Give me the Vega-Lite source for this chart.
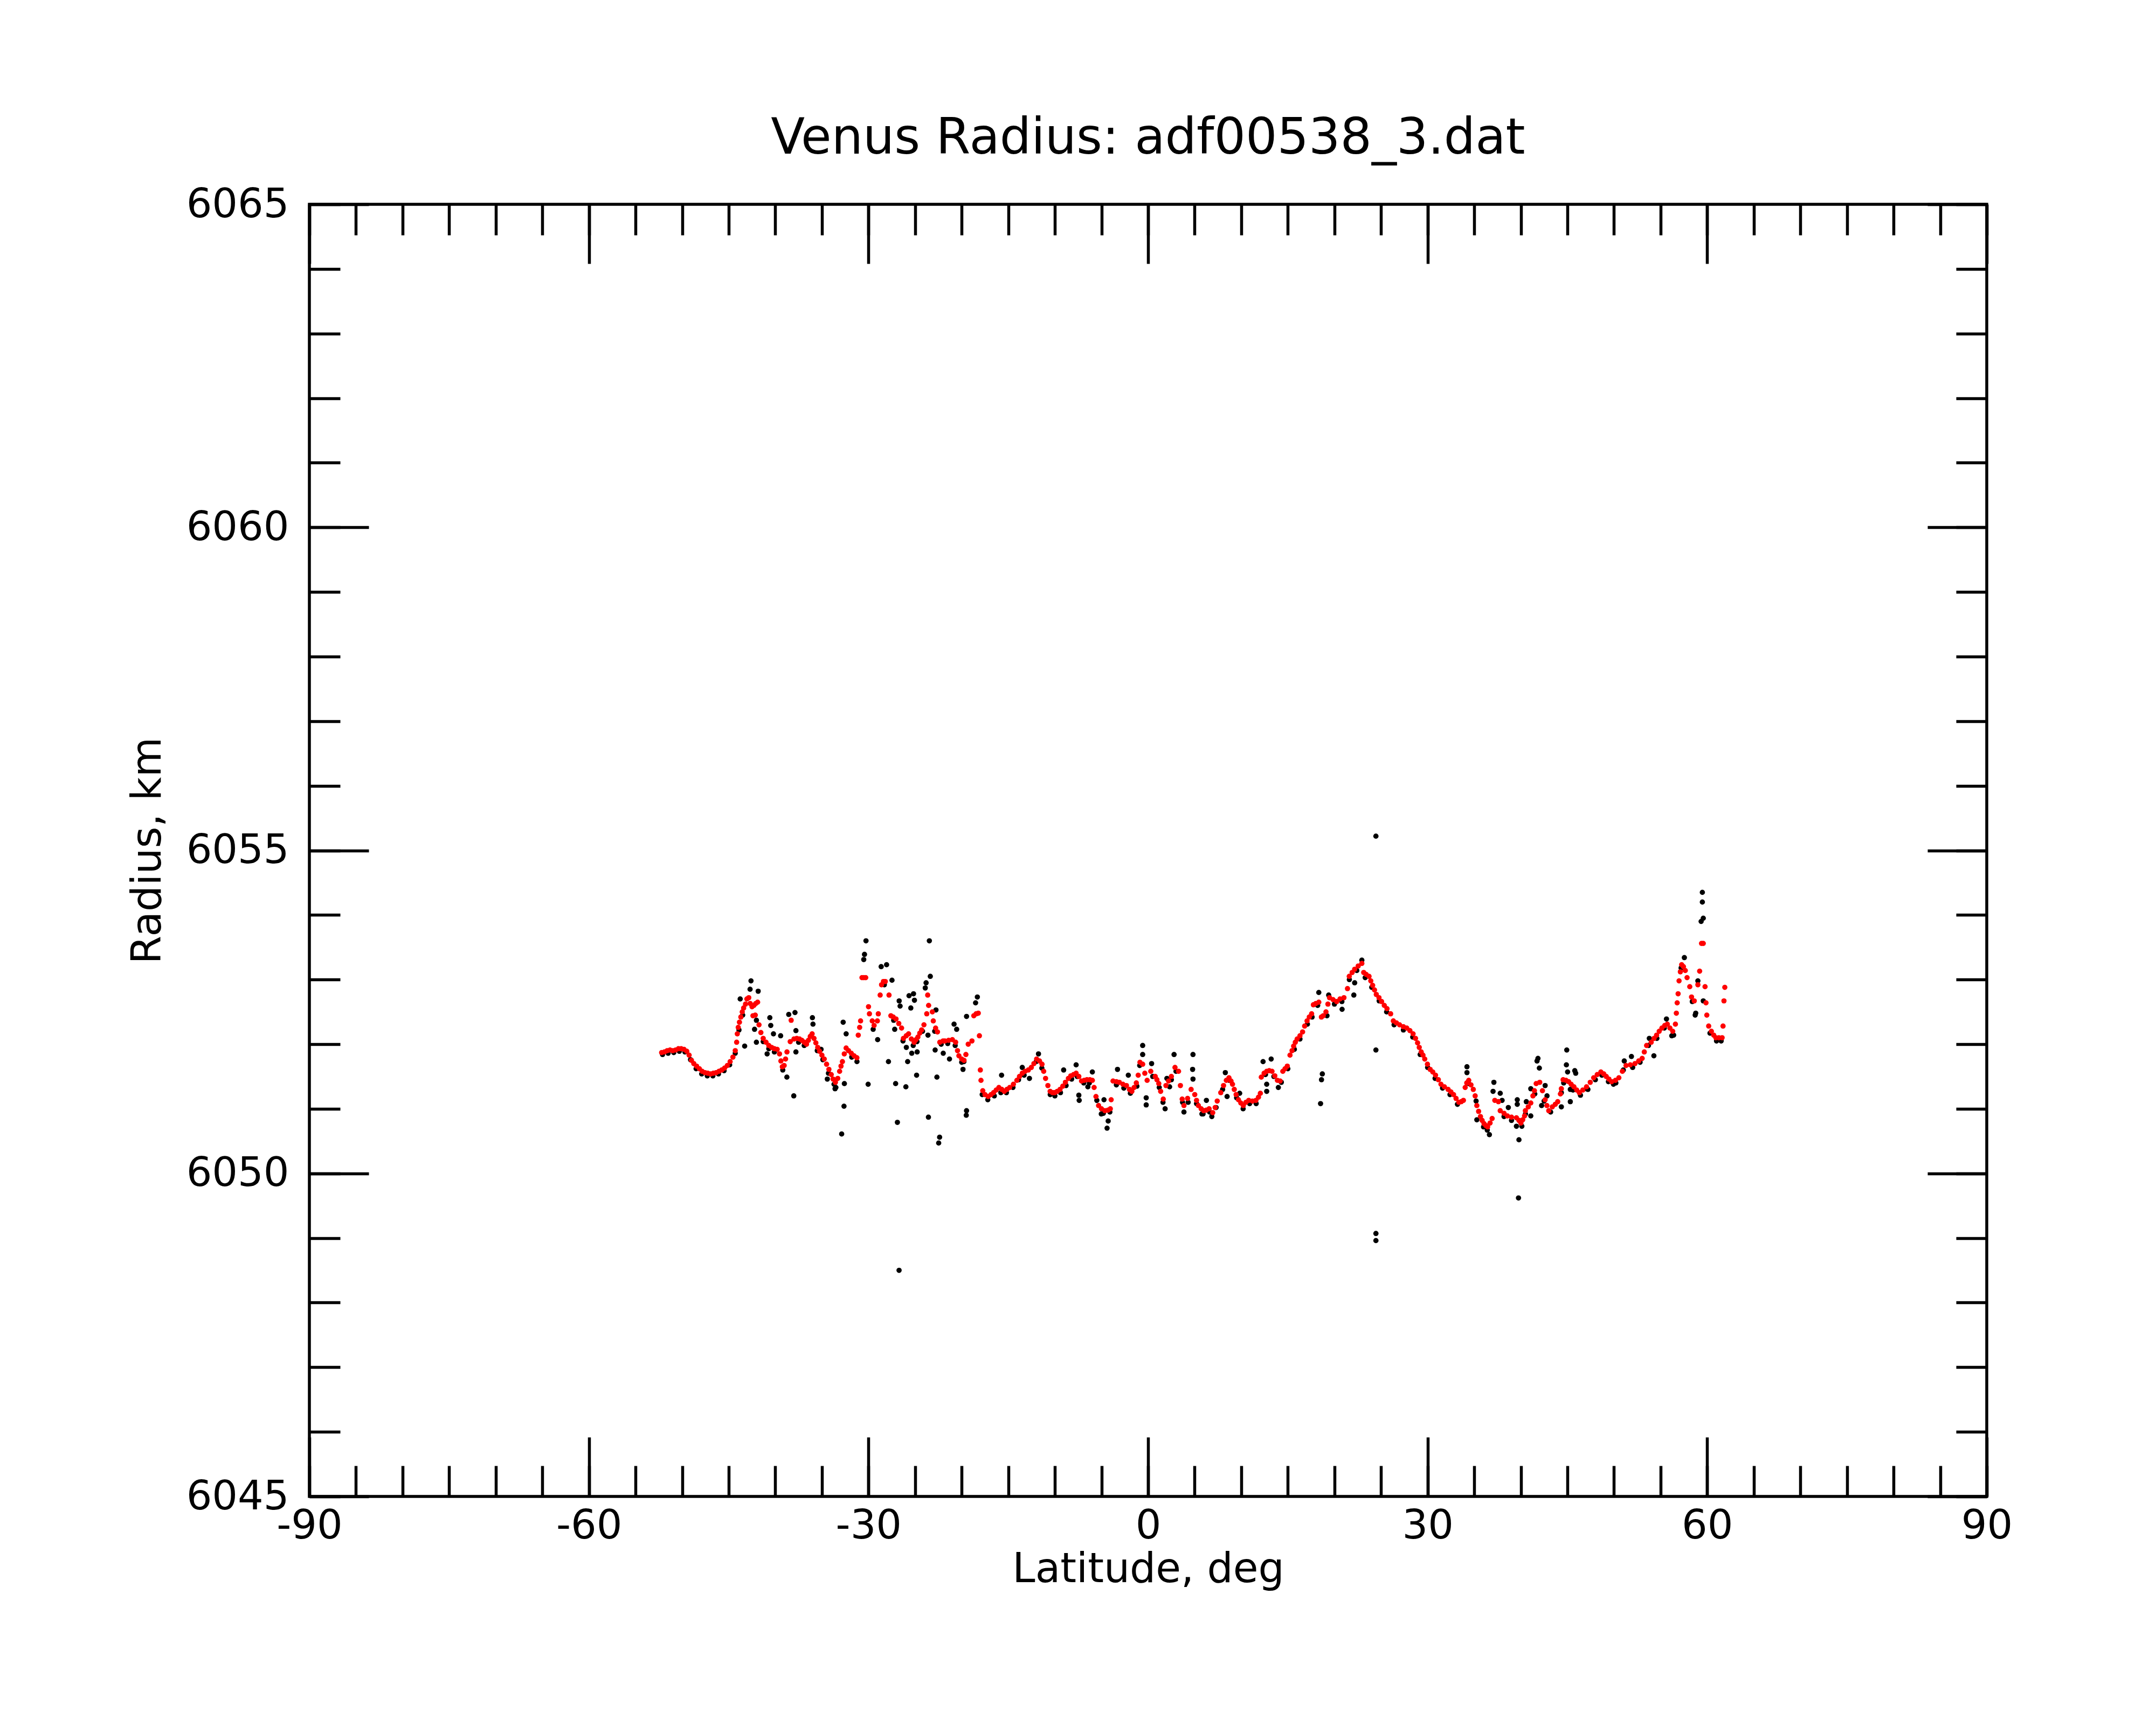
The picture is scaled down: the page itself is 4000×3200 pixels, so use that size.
{
"$schema": "https://vega.github.io/schema/vega-lite/v6.json",
"width": 3112, "height": 2397,
"autosize": {"type": "none"},
"padding": {"left": 574, "top": 379, "right": 314, "bottom": 424},
"background": "white",
"title": {"text": "Venus Radius: adf00538_3.dat", "font": "DejaVu Sans", "fontSize": 92, "fontWeight": "normal", "color": "black", "anchor": "middle", "baseline": "alphabetic", "offset": -35},
"config": {
  "view": {"stroke": "black", "strokeWidth": 5.5},
  "axis": {"domain": false, "grid": false, "tickColor": "black", "tickWidth": 5.5, "labelFont": "DejaVu Sans", "labelFontSize": 75, "labelColor": "black", "labelLimit": 0, "titleFont": "DejaVu Sans", "titleFontSize": 76, "titleFontWeight": "normal", "titleColor": "black", "labelFlush": false, "labelOverlap": false, "labelBound": false}
},
"datasets": {
"smooth": [
{"lat":-52.2,"r":6051.87},{"lat":-51.9,"r":6051.88},{"lat":-51.6,"r":6051.9},{"lat":-51.3,"r":6051.91},{"lat":-51.0,"r":6051.9},{"lat":-50.7,"r":6051.91},{"lat":-50.4,"r":6051.93},{"lat":-50.1,"r":6051.93},{"lat":-49.8,"r":6051.92},{"lat":-49.5,"r":6051.89},{"lat":-49.25,"r":6051.83},{"lat":-49.0,"r":6051.75},{"lat":-48.75,"r":6051.7},{"lat":-48.45,"r":6051.66},{"lat":-48.15,"r":6051.62},{"lat":-47.85,"r":6051.58},{"lat":-47.55,"r":6051.56},{"lat":-47.25,"r":6051.55},{"lat":-46.95,"r":6051.54},{"lat":-46.65,"r":6051.55},{"lat":-46.35,"r":6051.56},{"lat":-46.05,"r":6051.58},{"lat":-45.75,"r":6051.6},{"lat":-45.45,"r":6051.63},{"lat":-45.15,"r":6051.67},{"lat":-44.85,"r":6051.73},{"lat":-44.55,"r":6051.8},
{"lat":-44.3,"r":6051.9},{"lat":-44.15,"r":6052.03},{"lat":-44.08,"r":6052.16},{"lat":-43.98,"r":6052.26},{"lat":-43.85,"r":6052.34},{"lat":-43.7,"r":6052.42},{"lat":-43.55,"r":6052.5},{"lat":-43.4,"r":6052.56},{"lat":-43.2,"r":6052.62},{"lat":-43.05,"r":6052.7},{"lat":-42.85,"r":6052.72},{"lat":-42.7,"r":6052.63},{"lat":-42.5,"r":6052.58},{"lat":-42.3,"r":6052.6},{"lat":-42.1,"r":6052.63},{"lat":-41.9,"r":6052.65},{"lat":-42.4,"r":6052.44},{"lat":-42.15,"r":6052.45},
{"lat":-41.75,"r":6052.3},{"lat":-41.55,"r":6052.18},{"lat":-41.3,"r":6052.09},{"lat":-41.0,"r":6052.03},{"lat":-40.7,"r":6051.98},{"lat":-40.4,"r":6051.95},{"lat":-40.1,"r":6051.93},{"lat":-39.8,"r":6051.92},{"lat":-39.55,"r":6051.85},{"lat":-39.4,"r":6051.74},{"lat":-39.25,"r":6051.65},{"lat":-39.05,"r":6051.67},{"lat":-38.9,"r":6051.77},{"lat":-38.75,"r":6051.88},{"lat":-38.3,"r":6052.37},{"lat":-38.4,"r":6052.04},{"lat":-38.0,"r":6052.08},{"lat":-37.7,"r":6052.09},{"lat":-37.4,"r":6052.08},{"lat":-37.15,"r":6052.06},{"lat":-36.9,"r":6052.03},{"lat":-36.65,"r":6052.0},{"lat":-36.45,"r":6052.06},{"lat":-36.25,"r":6052.12},{"lat":-36.05,"r":6052.16},{"lat":-35.85,"r":6052.09},{"lat":-35.65,"r":6052.02},{"lat":-35.45,"r":6051.95},{"lat":-35.25,"r":6051.89},{"lat":-35.0,"r":6051.83},{"lat":-34.75,"r":6051.77},{"lat":-34.5,"r":6051.69},{"lat":-34.25,"r":6051.61},{"lat":-34.0,"r":6051.53},{"lat":-33.8,"r":6051.46},{"lat":-33.55,"r":6051.41},{"lat":-33.3,"r":6051.47},{"lat":-33.1,"r":6051.58},{"lat":-32.95,"r":6051.66},{"lat":-32.8,"r":6051.73},{"lat":-32.6,"r":6051.85},{"lat":-32.4,"r":6051.94},{"lat":-32.15,"r":6051.9},{"lat":-31.85,"r":6051.86},{"lat":-31.55,"r":6051.82},{"lat":-31.25,"r":6051.79},
{"lat":-31.1,"r":6052.14},{"lat":-30.95,"r":6052.26},{"lat":-30.85,"r":6052.36},{"lat":-30.7,"r":6053.03},{"lat":-30.5,"r":6053.03},{"lat":-30.3,"r":6053.03},{"lat":-30.0,"r":6052.58},{"lat":-29.9,"r":6052.47},{"lat":-29.6,"r":6052.36},{"lat":-29.4,"r":6052.29},{"lat":-29.05,"r":6052.36},{"lat":-28.95,"r":6052.47},{"lat":-28.75,"r":6052.76},{"lat":-28.6,"r":6052.92},{"lat":-28.4,"r":6052.97},{"lat":-28.2,"r":6052.97},{"lat":-27.8,"r":6052.76},{"lat":-27.6,"r":6052.44},{"lat":-27.35,"r":6052.42},{"lat":-27.05,"r":6052.39},{"lat":-26.75,"r":6052.32},{"lat":-26.45,"r":6052.25},{"lat":-26.25,"r":6052.09},{"lat":-25.95,"r":6052.13},{"lat":-25.7,"r":6052.16},{"lat":-25.4,"r":6052.08},{"lat":-25.1,"r":6052.03},{"lat":-24.9,"r":6052.07},{"lat":-24.7,"r":6052.11},{"lat":-24.5,"r":6052.17},{"lat":-24.3,"r":6052.22},{"lat":-24.05,"r":6052.3},{"lat":-23.75,"r":6052.47},{"lat":-23.55,"r":6052.6},{"lat":-23.65,"r":6052.76},{"lat":-23.15,"r":6052.5},{"lat":-23.05,"r":6052.36},{"lat":-22.8,"r":6052.25},{"lat":-22.6,"r":6052.19},{"lat":-22.35,"r":6052.03},
{"lat":-22.0,"r":6052.05},{"lat":-21.8,"r":6052.05},{"lat":-21.4,"r":6052.06},{"lat":-21.0,"r":6052.07},{"lat":-20.65,"r":6052.03},{"lat":-20.45,"r":6051.9},{"lat":-20.3,"r":6051.82},{"lat":-20.0,"r":6051.77},{"lat":-19.75,"r":6051.75},{"lat":-19.55,"r":6051.84},{"lat":-19.3,"r":6052.0},{"lat":-18.9,"r":6052.05},{"lat":-18.7,"r":6052.44},{"lat":-18.45,"r":6052.47},{"lat":-18.22,"r":6052.48},{"lat":-18.1,"r":6052.13},{"lat":-18.0,"r":6051.6},{"lat":-17.93,"r":6051.44},{"lat":-17.74,"r":6051.28},{"lat":-17.5,"r":6051.22},{"lat":-17.16,"r":6051.19},{"lat":-16.85,"r":6051.22},{"lat":-16.58,"r":6051.25},{"lat":-16.3,"r":6051.29},{"lat":-16.01,"r":6051.33},{"lat":-15.7,"r":6051.3},{"lat":-15.43,"r":6051.27},{"lat":-15.15,"r":6051.3},{"lat":-14.85,"r":6051.33},{"lat":-14.45,"r":6051.38},{"lat":-14.08,"r":6051.44},{"lat":-13.8,"r":6051.5},{"lat":-13.5,"r":6051.55},{"lat":-13.2,"r":6051.58},{"lat":-12.85,"r":6051.6},{"lat":-12.53,"r":6051.64},{"lat":-12.25,"r":6051.7},{"lat":-11.96,"r":6051.77},{"lat":-11.65,"r":6051.74},{"lat":-11.38,"r":6051.69},{"lat":-11.2,"r":6051.58},{"lat":-11.0,"r":6051.47},{"lat":-10.75,"r":6051.36},{"lat":-10.51,"r":6051.27},{"lat":-10.25,"r":6051.25},{"lat":-10.03,"r":6051.25},{"lat":-9.75,"r":6051.27},{"lat":-9.45,"r":6051.3},{"lat":-9.15,"r":6051.35},{"lat":-8.87,"r":6051.41},{"lat":-8.55,"r":6051.47},{"lat":-8.29,"r":6051.51},{"lat":-8.0,"r":6051.53},{"lat":-7.72,"r":6051.55},{"lat":-7.43,"r":6051.5},{"lat":-7.14,"r":6051.43},{"lat":-6.85,"r":6051.44},{"lat":-6.56,"r":6051.45},{"lat":-6.25,"r":6051.45},{"lat":-5.98,"r":6051.44},{"lat":-5.79,"r":6051.33},{"lat":-5.59,"r":6051.19},{"lat":-5.31,"r":6051.05},{"lat":-5.0,"r":6051.0},{"lat":-4.63,"r":6050.97},{"lat":-4.3,"r":6050.98},{"lat":-4.05,"r":6051.0},{"lat":-3.96,"r":6051.14},{"lat":-3.76,"r":6051.43},{"lat":-3.4,"r":6051.42},{"lat":-3.09,"r":6051.41},{"lat":-2.7,"r":6051.38},{"lat":-2.32,"r":6051.36},{"lat":-2.0,"r":6051.3},{"lat":-1.74,"r":6051.27},{"lat":-1.5,"r":6051.33},{"lat":-1.26,"r":6051.4},{"lat":-1.06,"r":6051.52},{"lat":-0.87,"r":6051.72},{"lat":-0.58,"r":6051.69},{"lat":-0.35,"r":6051.55},{"lat":-0.1,"r":6051.44},{"lat":0.29,"r":6051.58},{"lat":0.77,"r":6051.5},{"lat":0.95,"r":6051.45},{"lat":1.15,"r":6051.39},{"lat":1.35,"r":6051.27},{"lat":1.63,"r":6051.15},{"lat":1.92,"r":6051.36},{"lat":2.2,"r":6051.43},{"lat":2.5,"r":6051.5},{"lat":2.89,"r":6051.64},{"lat":3.27,"r":6051.58},{"lat":3.47,"r":6051.36},{"lat":3.66,"r":6051.15},{"lat":3.85,"r":6051.05},{"lat":4.24,"r":6051.16},{"lat":4.62,"r":6051.3},{"lat":5.01,"r":6051.22},{"lat":5.2,"r":6051.13},{"lat":5.4,"r":6051.05},{"lat":5.7,"r":6051.0},{"lat":5.97,"r":6050.97},{"lat":6.25,"r":6050.98},{"lat":6.55,"r":6051.0},{"lat":6.94,"r":6050.94},{"lat":7.2,"r":6051.02},{"lat":7.42,"r":6051.12},
{"lat":7.8,"r":6051.25},{"lat":8.1,"r":6051.36},{"lat":8.4,"r":6051.44},{"lat":8.68,"r":6051.48},{"lat":8.9,"r":6051.43},{"lat":9.06,"r":6051.38},{"lat":9.25,"r":6051.3},{"lat":9.45,"r":6051.22},{"lat":9.7,"r":6051.14},{"lat":9.95,"r":6051.09},{"lat":10.22,"r":6051.05},{"lat":10.5,"r":6051.1},{"lat":10.8,"r":6051.13},{"lat":11.2,"r":6051.12},{"lat":11.57,"r":6051.13},{"lat":11.85,"r":6051.18},{"lat":12.05,"r":6051.24},{"lat":12.15,"r":6051.49},{"lat":12.45,"r":6051.55},{"lat":12.73,"r":6051.58},{"lat":13.0,"r":6051.59},{"lat":13.3,"r":6051.58},{"lat":13.6,"r":6051.51},{"lat":13.88,"r":6051.44},{"lat":14.17,"r":6051.43},{"lat":14.46,"r":6051.58},{"lat":14.7,"r":6051.62},{"lat":14.94,"r":6051.66},{"lat":15.23,"r":6051.83},{"lat":15.45,"r":6051.9},{"lat":15.62,"r":6051.97},{"lat":15.8,"r":6052.03},{"lat":16.0,"r":6052.08},{"lat":16.3,"r":6052.13},{"lat":16.58,"r":6052.19},{"lat":16.8,"r":6052.28},{"lat":17.06,"r":6052.36},{"lat":17.3,"r":6052.42},{"lat":17.55,"r":6052.47},{"lat":17.74,"r":6052.61},{"lat":18.0,"r":6052.63},{"lat":18.32,"r":6052.65},{"lat":18.6,"r":6052.42},{"lat":18.8,"r":6052.44},{"lat":19.09,"r":6052.5},{"lat":19.3,"r":6052.62},{"lat":19.47,"r":6052.72},{"lat":19.85,"r":6052.69},{"lat":20.24,"r":6052.66},{"lat":20.6,"r":6052.7},{"lat":21.02,"r":6052.72},{"lat":21.4,"r":6052.86},{"lat":21.59,"r":6053.05},{"lat":21.9,"r":6053.11},{"lat":22.17,"r":6053.16},{"lat":22.55,"r":6053.21},{"lat":22.94,"r":6053.25},{"lat":23.14,"r":6053.11},{"lat":23.4,"r":6053.08},{"lat":23.71,"r":6053.05},{"lat":23.9,"r":6052.98},{"lat":24.1,"r":6052.91},{"lat":24.3,"r":6052.84},{"lat":24.49,"r":6052.77},{"lat":24.78,"r":6052.72},{"lat":25.06,"r":6052.66},{"lat":25.35,"r":6052.6},{"lat":25.64,"r":6052.55},{"lat":26.03,"r":6052.47},{"lat":26.32,"r":6052.36},{"lat":26.65,"r":6052.33},{"lat":26.99,"r":6052.3},{"lat":27.4,"r":6052.27},{"lat":27.76,"r":6052.25},{"lat":28.1,"r":6052.21},{"lat":28.44,"r":6052.16},{"lat":28.7,"r":6052.09},{"lat":28.92,"r":6052.02},{"lat":29.1,"r":6051.95},{"lat":29.31,"r":6051.88},{"lat":29.5,"r":6051.83},{"lat":29.69,"r":6051.77},{"lat":29.98,"r":6051.69},{"lat":30.27,"r":6051.61},{"lat":30.55,"r":6051.57},{"lat":30.85,"r":6051.52},{"lat":31.15,"r":6051.45},{"lat":31.43,"r":6051.38},{"lat":31.8,"r":6051.34},{"lat":32.2,"r":6051.3},{"lat":32.5,"r":6051.26},{"lat":32.78,"r":6051.22},{"lat":33.05,"r":6051.16},{"lat":33.35,"r":6051.1},{"lat":33.6,"r":6051.11},{"lat":33.84,"r":6051.13},{"lat":34.03,"r":6051.33},{"lat":34.2,"r":6051.4},{"lat":34.41,"r":6051.44},{"lat":34.65,"r":6051.37},{"lat":34.9,"r":6051.3},{"lat":35.1,"r":6051.2},{"lat":35.28,"r":6051.05},{"lat":35.47,"r":6050.96},{"lat":35.67,"r":6050.88},{"lat":35.85,"r":6050.82},{"lat":36.05,"r":6050.77},{"lat":36.25,"r":6050.74},{"lat":36.44,"r":6050.72},{"lat":36.7,"r":6050.78},{"lat":36.92,"r":6050.85},{"lat":37.21,"r":6051.13},
{"lat":37.6,"r":6051.11},{"lat":37.79,"r":6050.97},{"lat":38.2,"r":6050.93},{"lat":38.56,"r":6050.89},{"lat":39.0,"r":6050.87},{"lat":39.53,"r":6050.86},{"lat":39.8,"r":6050.82},{"lat":40.01,"r":6050.78},{"lat":40.2,"r":6050.83},{"lat":40.4,"r":6050.89},{"lat":40.49,"r":6050.97},{"lat":40.8,"r":6051.03},{"lat":41.07,"r":6051.09},{"lat":41.3,"r":6051.2},{"lat":41.46,"r":6051.28},{"lat":41.65,"r":6051.39},{"lat":42.03,"r":6051.41},{"lat":42.32,"r":6051.28},{"lat":42.61,"r":6051.14},{"lat":42.8,"r":6051.05},{"lat":43.0,"r":6050.97},{"lat":43.38,"r":6051.03},{"lat":43.7,"r":6051.07},{"lat":43.96,"r":6051.11},{"lat":44.25,"r":6051.23},{"lat":44.35,"r":6051.31},{"lat":44.54,"r":6051.45},{"lat":44.85,"r":6051.44},{"lat":45.12,"r":6051.42},{"lat":45.4,"r":6051.38},{"lat":45.7,"r":6051.34},{"lat":46.0,"r":6051.29},{"lat":46.28,"r":6051.25},{"lat":46.65,"r":6051.29},{"lat":47.05,"r":6051.34},{"lat":47.45,"r":6051.41},{"lat":47.82,"r":6051.48},{"lat":48.2,"r":6051.53},{"lat":48.59,"r":6051.57},{"lat":48.9,"r":6051.54},{"lat":49.17,"r":6051.5},{"lat":49.45,"r":6051.46},{"lat":49.75,"r":6051.42},{"lat":50.15,"r":6051.44},{"lat":50.52,"r":6051.48},{"lat":50.9,"r":6051.58},{"lat":51.29,"r":6051.67},{"lat":51.75,"r":6051.68},{"lat":52.25,"r":6051.7},{"lat":52.65,"r":6051.74},{"lat":53.02,"r":6051.78},{"lat":53.25,"r":6051.88},{"lat":53.5,"r":6051.98},{"lat":53.99,"r":6052.03},{"lat":54.3,"r":6052.09},{"lat":54.57,"r":6052.14},{"lat":54.85,"r":6052.2},{"lat":55.14,"r":6052.25},{"lat":55.45,"r":6052.29},{"lat":55.72,"r":6052.31},{"lat":56.0,"r":6052.25},{"lat":56.3,"r":6052.2},{"lat":56.59,"r":6052.31},{"lat":56.69,"r":6052.48},{"lat":56.78,"r":6052.64},{"lat":56.88,"r":6052.78},{"lat":56.98,"r":6052.98},{"lat":57.12,"r":6053.12},{"lat":57.26,"r":6053.23},{"lat":57.45,"r":6053.2},{"lat":57.65,"r":6053.14},{"lat":57.84,"r":6053.03},{"lat":58.13,"r":6052.89},{"lat":58.32,"r":6052.73},{"lat":58.61,"r":6052.67},{"lat":59.0,"r":6052.92},{"lat":59.19,"r":6053.13},{"lat":59.39,"r":6053.56},{"lat":59.58,"r":6053.56},{"lat":59.77,"r":6052.89},{"lat":59.87,"r":6052.64},{"lat":59.96,"r":6052.45},{"lat":60.16,"r":6052.28},{"lat":60.45,"r":6052.2},{"lat":60.7,"r":6052.14},{"lat":60.93,"r":6052.1},{"lat":61.25,"r":6052.1},{"lat":61.6,"r":6052.1},{"lat":61.7,"r":6052.28},{"lat":61.8,"r":6052.67},{"lat":61.89,"r":6052.88}
],
"raw": [
{"lat":-52.1,"r":6051.84},{"lat":-51.5,"r":6051.86},{"lat":-50.9,"r":6051.87},{"lat":-50.3,"r":6051.89},{"lat":-49.7,"r":6051.88},{"lat":-49.1,"r":6051.76},{"lat":-48.5,"r":6051.62},{"lat":-47.9,"r":6051.54},{"lat":-47.3,"r":6051.51},{"lat":-46.7,"r":6051.51},{"lat":-46.1,"r":6051.54},{"lat":-45.5,"r":6051.59},{"lat":-44.9,"r":6051.68},{"lat":-44.3,"r":6051.86},{"lat":-43.9,"r":6052.22},{"lat":-43.5,"r":6052.45},
{"lat":-42.61,"r":6052.98},{"lat":-42.71,"r":6052.85},{"lat":-43.77,"r":6052.7},{"lat":-41.84,"r":6052.82},{"lat":-43.29,"r":6051.97},{"lat":-42.03,"r":6052.37},{"lat":-42.23,"r":6052.23},{"lat":-40.59,"r":6052.41},{"lat":-40.49,"r":6052.29},{"lat":-40.2,"r":6052.16},{"lat":-40.88,"r":6051.85},{"lat":-42.03,"r":6052.03},{"lat":-38.56,"r":6052.46},{"lat":-37.89,"r":6052.49},{"lat":-37.79,"r":6052.21},{"lat":-39.43,"r":6052.13},{"lat":-38.76,"r":6051.49},{"lat":-38.02,"r":6051.2},{"lat":-37.79,"r":6051.88},{"lat":-36.02,"r":6052.41},{"lat":-35.96,"r":6052.31},{"lat":-35.09,"r":6051.92},{"lat":-34.42,"r":6051.46},{"lat":-33.59,"r":6051.31},{"lat":-32.59,"r":6051.39},{"lat":-32.63,"r":6051.04},{"lat":-32.88,"r":6050.61},{"lat":-32.72,"r":6052.34},{"lat":-32.4,"r":6052.16},{"lat":-31.24,"r":6051.73},{"lat":-30.27,"r":6053.6},{"lat":-30.43,"r":6053.39},{"lat":-30.51,"r":6053.31},{"lat":-30.04,"r":6051.38},{"lat":-28.64,"r":6053.2},{"lat":-28.06,"r":6053.23},{"lat":-27.48,"r":6052.99},{"lat":-26.71,"r":6052.67},{"lat":-26.61,"r":6052.59},{"lat":-27.19,"r":6052.23},{"lat":-29.02,"r":6052.07},{"lat":-29.5,"r":6052.23},{"lat":-27.86,"r":6051.73},{"lat":-27.09,"r":6051.39},{"lat":-26.9,"r":6050.79},{"lat":-25.99,"r":6051.34},{"lat":-25.8,"r":6051.73},{"lat":-25.94,"r":6051.95},{"lat":-25.46,"r":6052.56},{"lat":-25.65,"r":6052.75},{"lat":-25.17,"r":6052.78},{"lat":-25.07,"r":6052.68},{"lat":-24.84,"r":6051.52},{"lat":-25.36,"r":6051.86},{"lat":-24.78,"r":6051.88},{"lat":-23.47,"r":6053.6},{"lat":-23.37,"r":6053.05},{"lat":-23.82,"r":6052.95},{"lat":-23.91,"r":6052.87},{"lat":-23.57,"r":6050.87},{"lat":-22.66,"r":6051.49},{"lat":-22.85,"r":6051.91},{"lat":-23.62,"r":6052.14},{"lat":-22.37,"r":6050.56},{"lat":-22.47,"r":6050.47},{"lat":-22.76,"r":6052.53},{"lat":-26.72,"r":6048.5},
{"lat":-41.3,"r":6052.04},{"lat":-40.7,"r":6051.93},{"lat":-40.1,"r":6051.88},{"lat":-39.2,"r":6051.6},{"lat":-37.5,"r":6052.03},{"lat":-36.9,"r":6051.98},{"lat":-35.5,"r":6051.9},{"lat":-34.9,"r":6051.76},{"lat":-34.3,"r":6051.55},{"lat":-33.7,"r":6051.38},{"lat":-33.5,"r":6051.33},{"lat":-31.8,"r":6051.8},{"lat":-28.3,"r":6052.92},{"lat":-27.3,"r":6052.37},{"lat":-26.3,"r":6052.05},{"lat":-25.2,"r":6051.98},{"lat":-24.8,"r":6052.04},{"lat":-24.2,"r":6052.2},{"lat":-22.9,"r":6052.2},{"lat":-22.2,"r":6052.0},{"lat":-21.5,"r":6052.01},{"lat":-20.7,"r":6051.98},{"lat":-20.0,"r":6051.72},
{"lat":-18.32,"r":6052.73},{"lat":-18.51,"r":6052.64},{"lat":-19.48,"r":6052.43},{"lat":-20.82,"r":6052.31},{"lat":-20.54,"r":6052.23},{"lat":-21.98,"r":6051.86},{"lat":-21.31,"r":6051.77},{"lat":-19.86,"r":6051.61},{"lat":-19.76,"r":6051.73},{"lat":-19.48,"r":6050.97},{"lat":-19.51,"r":6050.9},{"lat":-11.76,"r":6051.85},{"lat":-15.72,"r":6051.52},{"lat":-13.5,"r":6051.64},{"lat":-12.73,"r":6051.47},{"lat":-9.06,"r":6051.6},{"lat":-7.72,"r":6051.68},{"lat":-7.43,"r":6051.21},{"lat":-7.39,"r":6051.13},{"lat":-5.98,"r":6051.57},{"lat":-6.46,"r":6051.34},{"lat":-4.73,"r":6051.14},{"lat":-5.02,"r":6050.92},{"lat":-4.28,"r":6050.81},{"lat":-4.4,"r":6050.7},{"lat":-3.28,"r":6051.61},{"lat":-2.12,"r":6051.52},{"lat":-0.58,"r":6051.98},{"lat":-0.58,"r":6051.84},{"lat":-0.2,"r":6051.17},{"lat":-0.2,"r":6051.06},{"lat":0.38,"r":6051.7},{"lat":1.83,"r":6051.0},{"lat":2.02,"r":6051.47},{"lat":2.31,"r":6051.34},{"lat":2.79,"r":6051.84},{"lat":3.85,"r":6050.95},{"lat":4.82,"r":6051.84},{"lat":4.78,"r":6051.61},{"lat":4.82,"r":6051.46},{"lat":5.78,"r":6050.92},{"lat":6.26,"r":6051.13},{"lat":6.84,"r":6050.88},
{"lat":-17.8,"r":6051.22},{"lat":-17.2,"r":6051.14},{"lat":-16.5,"r":6051.2},{"lat":-15.8,"r":6051.25},{"lat":-15.2,"r":6051.25},{"lat":-14.5,"r":6051.33},{"lat":-13.9,"r":6051.45},{"lat":-13.3,"r":6051.52},{"lat":-12.0,"r":6051.73},{"lat":-11.4,"r":6051.63},{"lat":-10.5,"r":6051.22},{"lat":-10.0,"r":6051.2},{"lat":-9.4,"r":6051.25},{"lat":-8.8,"r":6051.36},{"lat":-8.2,"r":6051.46},{"lat":-7.6,"r":6051.5},{"lat":-6.9,"r":6051.4},{"lat":-6.3,"r":6051.4},{"lat":-5.5,"r":6051.13},{"lat":-4.8,"r":6050.93},{"lat":-4.1,"r":6050.95},{"lat":-3.4,"r":6051.37},{"lat":-2.6,"r":6051.32},{"lat":-1.9,"r":6051.24},{"lat":-1.2,"r":6051.35},{"lat":-0.9,"r":6051.67},{"lat":0.5,"r":6051.5},{"lat":1.2,"r":6051.33},{"lat":1.6,"r":6051.1},{"lat":2.5,"r":6051.45},{"lat":3.0,"r":6051.58},{"lat":3.7,"r":6051.1},{"lat":4.3,"r":6051.1},{"lat":5.2,"r":6051.08},{"lat":5.9,"r":6050.92},{"lat":6.6,"r":6050.95},{"lat":7.3,"r":6051.02},
{"lat":8.29,"r":6051.56},{"lat":8.48,"r":6051.19},{"lat":9.83,"r":6051.24},{"lat":12.34,"r":6051.73},{"lat":13.21,"r":6051.77},{"lat":12.73,"r":6051.38},{"lat":12.73,"r":6051.27},{"lat":13.98,"r":6051.33},{"lat":18.32,"r":6052.8},{"lat":19.38,"r":6052.76},{"lat":20.82,"r":6052.54},{"lat":22.17,"r":6052.95},{"lat":22.08,"r":6052.76},{"lat":18.7,"r":6051.54},{"lat":18.61,"r":6051.45},{"lat":18.51,"r":6051.08},{"lat":22.94,"r":6053.3},{"lat":24.45,"r":6051.91},{"lat":34.22,"r":6051.65},{"lat":34.22,"r":6051.56},{"lat":35.28,"r":6050.83},{"lat":36.63,"r":6050.6},{"lat":37.11,"r":6051.41},{"lat":37.02,"r":6051.27},{"lat":24.45,"r":6055.22},{"lat":24.45,"r":6049.07},{"lat":24.45,"r":6048.96},{"lat":39.75,"r":6049.62},{"lat":39.8,"r":6050.52},
{"lat":8.0,"r":6051.3},{"lat":8.7,"r":6051.44},{"lat":9.5,"r":6051.17},{"lat":10.2,"r":6051.0},{"lat":10.9,"r":6051.08},{"lat":11.6,"r":6051.08},{"lat":12.6,"r":6051.53},{"lat":13.5,"r":6051.5},{"lat":14.3,"r":6051.41},{"lat":15.0,"r":6051.62},{"lat":15.7,"r":6051.92},{"lat":16.3,"r":6052.08},{"lat":17.1,"r":6052.31},{"lat":17.6,"r":6052.42},{"lat":18.2,"r":6052.6},{"lat":19.2,"r":6052.44},{"lat":20.0,"r":6052.62},{"lat":20.8,"r":6052.66},{"lat":21.6,"r":6053.0},{"lat":22.4,"r":6053.14},{"lat":23.3,"r":6053.03},{"lat":24.0,"r":6052.88},{"lat":24.8,"r":6052.67},{"lat":25.6,"r":6052.5},{"lat":26.4,"r":6052.3},{"lat":27.4,"r":6052.22},{"lat":28.4,"r":6052.11},{"lat":29.2,"r":6051.84},{"lat":30.0,"r":6051.64},{"lat":30.8,"r":6051.47},{"lat":31.6,"r":6051.32},{"lat":32.4,"r":6051.22},{"lat":33.2,"r":6051.07},{"lat":34.4,"r":6051.39},{"lat":35.2,"r":6051.12},{"lat":36.0,"r":6050.72},{"lat":36.4,"r":6050.67},
{"lat":37.79,"r":6051.24},{"lat":37.99,"r":6051.13},{"lat":38.66,"r":6051.02},{"lat":39.62,"r":6051.14},{"lat":39.62,"r":6051.07},{"lat":40.59,"r":6051.11},{"lat":41.07,"r":6050.89},{"lat":39.53,"r":6050.73},{"lat":40.11,"r":6050.73},{"lat":41.07,"r":6051.31},{"lat":41.84,"r":6051.78},{"lat":41.74,"r":6051.74},{"lat":41.99,"r":6051.63},{"lat":42.61,"r":6051.36},{"lat":42.81,"r":6051.2},{"lat":42.23,"r":6051.05},{"lat":44.35,"r":6051.03},{"lat":44.93,"r":6051.91},{"lat":44.89,"r":6051.68},{"lat":45.02,"r":6051.57},{"lat":45.79,"r":6051.59},{"lat":45.89,"r":6051.55},{"lat":45.31,"r":6051.3},{"lat":45.31,"r":6051.11},{"lat":44.35,"r":6051.25},{"lat":47.05,"r":6051.31},{"lat":49.94,"r":6051.38},{"lat":51.1,"r":6051.74},{"lat":51.87,"r":6051.81},{"lat":53.79,"r":6052.09},{"lat":54.28,"r":6051.82},{"lat":55.63,"r":6052.39},{"lat":56.4,"r":6052.14},{"lat":57.55,"r":6053.34},{"lat":59.48,"r":6054.35},{"lat":59.48,"r":6054.2},{"lat":59.58,"r":6053.95},{"lat":59.35,"r":6053.9},{"lat":59.0,"r":6052.98},{"lat":58.77,"r":6052.48},{"lat":58.71,"r":6052.45},{"lat":59.58,"r":6052.67},
{"lat":38.2,"r":6050.88},{"lat":39.0,"r":6050.82},{"lat":40.5,"r":6050.92},{"lat":41.5,"r":6051.23},{"lat":42.5,"r":6051.12},{"lat":43.2,"r":6050.95},{"lat":44.6,"r":6051.4},{"lat":45.6,"r":6051.29},{"lat":46.4,"r":6051.21},{"lat":47.2,"r":6051.3},{"lat":48.0,"r":6051.45},{"lat":48.7,"r":6051.52},{"lat":49.4,"r":6051.42},{"lat":50.2,"r":6051.4},{"lat":51.0,"r":6051.6},{"lat":52.0,"r":6051.64},{"lat":52.8,"r":6051.72},{"lat":53.7,"r":6051.98},{"lat":54.6,"r":6052.09},{"lat":55.4,"r":6052.25},{"lat":56.2,"r":6052.13},{"lat":57.2,"r":6053.18},{"lat":58.4,"r":6052.66},{"lat":60.3,"r":6052.17},{"lat":61.0,"r":6052.05},{"lat":61.5,"r":6052.05}
]
},
"layer": [
{"data": {"name": "raw"},
 "mark": {"type": "circle", "size": 95, "color": "black", "opacity": 1},
 "encoding": {
  "x": {"field": "lat", "type": "quantitative", "scale": {"domain": [-90, 90], "nice": false, "zero": false},
        "axis": {"orient": "bottom", "values": [-90, -60, -30, 0, 30, 60, 90], "tickSize": -110, "labelPadding": 128, "labelExpr": "'' + datum.value", "title": "Latitude, deg", "titleY": 158, "titleBaseline": "alphabetic"}},
  "y": {"field": "r", "type": "quantitative", "scale": {"domain": [6045, 6065], "nice": false, "zero": false},
        "axis": {"orient": "left", "values": [6045, 6050, 6055, 6060, 6065], "tickSize": -110, "labelPadding": 148, "labelExpr": "'' + datum.value", "title": "Radius, km", "titleX": -277, "titleBaseline": "alphabetic"}}
 }},
{"data": {"name": "smooth"},
 "mark": {"type": "circle", "size": 95, "color": "#ff0000", "opacity": 1},
 "encoding": {
  "x": {"field": "lat", "type": "quantitative", "scale": {"domain": [-90, 90], "nice": false, "zero": false},
        "axis": {"orient": "bottom", "values": [-90,-85,-80,-75,-70,-65,-60,-55,-50,-45,-40,-35,-30,-25,-20,-15,-10,-5,0,5,10,15,20,25,30,35,40,45,50,55,60,65,70,75,80,85,90], "tickSize": -57, "labels": false, "title": null}},
  "y": {"field": "r", "type": "quantitative", "scale": {"domain": [6045, 6065], "nice": false, "zero": false},
        "axis": {"orient": "left", "values": [6045,6046,6047,6048,6049,6050,6051,6052,6053,6054,6055,6056,6057,6058,6059,6060,6061,6062,6063,6064,6065], "tickSize": -57, "labels": false, "title": null}}
 }},
{"data": {"name": "smooth"},
 "mark": {"type": "circle", "size": 95, "color": "#ff0000", "opacity": 0},
 "encoding": {
  "x": {"field": "lat", "type": "quantitative", "scale": {"domain": [-90, 90], "nice": false, "zero": false},
        "axis": {"orient": "top", "values": [-90, -60, -30, 0, 30, 60, 90], "tickSize": -110, "labels": false, "title": null}},
  "y": {"field": "r", "type": "quantitative", "scale": {"domain": [6045, 6065], "nice": false, "zero": false},
        "axis": {"orient": "right", "values": [6045, 6050, 6055, 6060, 6065], "tickSize": -110, "labels": false, "title": null}}
 }},
{"data": {"name": "smooth"},
 "mark": {"type": "circle", "size": 95, "color": "#ff0000", "opacity": 0},
 "encoding": {
  "x": {"field": "lat", "type": "quantitative", "scale": {"domain": [-90, 90], "nice": false, "zero": false},
        "axis": {"orient": "top", "values": [-90,-85,-80,-75,-70,-65,-60,-55,-50,-45,-40,-35,-30,-25,-20,-15,-10,-5,0,5,10,15,20,25,30,35,40,45,50,55,60,65,70,75,80,85,90], "tickSize": -57, "labels": false, "title": null}},
  "y": {"field": "r", "type": "quantitative", "scale": {"domain": [6045, 6065], "nice": false, "zero": false},
        "axis": {"orient": "right", "values": [6045,6046,6047,6048,6049,6050,6051,6052,6053,6054,6055,6056,6057,6058,6059,6060,6061,6062,6063,6064,6065], "tickSize": -57, "labels": false, "title": null}}
 }}
],
"resolve": {"axis": {"x": "independent", "y": "independent"}}
}
